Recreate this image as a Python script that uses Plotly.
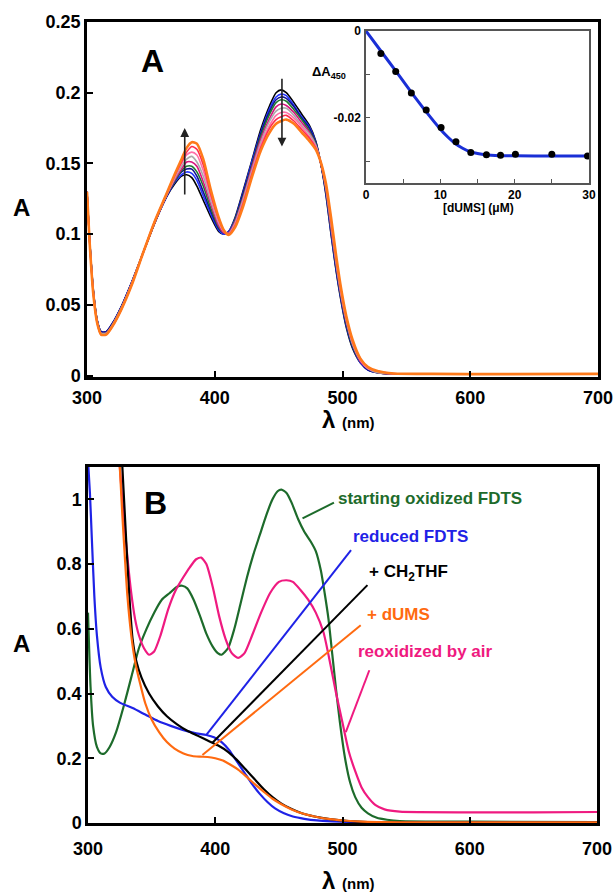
import plotly.graph_objects as go

# ---------------- Panel A: spectra during dUMS titration ----------------
wl_A = [300, 302, 305, 308, 311, 315, 320, 327, 335, 344,
        353, 362, 369, 374, 378, 382, 386, 391, 397, 403,
        407, 411, 416, 422, 429, 436, 443, 448, 452, 456,
        462, 468, 474, 479, 483, 487, 491, 495, 499, 503,
        508, 514, 520, 528, 540, 570, 620, 700]

A_black = [.130, .097, .060, .039, .031, .031, .037, .049, .066, .087,
           .108, .126, .136, .141, .142, .140, .134, .124, .112, .102,
           .100, .102, .112, .130, .152, .174, .191, .200, .202, .200,
           .193, .185, .177, .166, .150, .128, .100, .074, .052, .034,
           .019, .009, .004, .002, .001, .001, .001, .001]
A_blue = [.130, .097, .060, .039, .031, .031, .037, .049, .066, .087,
          .108, .126, .137, .142, .144, .143, .138, .127, .114, .103,
          .100, .102, .111, .129, .151, .172, .189, .197, .199, .198,
          .191, .183, .176, .165, .150, .129, .101, .075, .053, .035,
          .020, .009, .004, .002, .001, .001, .001, .001]
A_navy = [.130, .097, .059, .039, .031, .031, .037, .049, .066, .087,
          .108, .126, .138, .144, .146, .146, .141, .130, .116, .104,
          .101, .101, .110, .128, .149, .171, .187, .195, .197, .196,
          .190, .182, .175, .165, .150, .130, .103, .076, .054, .036,
          .020, .010, .004, .002, .001, .001, .001, .001]
A_green = [.130, .096, .059, .038, .030, .030, .036, .048, .065, .087,
           .108, .127, .138, .145, .148, .148, .144, .134, .118, .105,
           .101, .101, .110, .126, .148, .169, .185, .193, .195, .194,
           .188, .181, .173, .164, .150, .131, .104, .078, .055, .037,
           .021, .010, .005, .002, .001, .001, .001, .001]
A_magenta = [.130, .096, .059, .038, .030, .030, .036, .048, .065, .087,
             .108, .127, .139, .146, .151, .151, .148, .137, .121, .106,
             .101, .101, .109, .125, .147, .167, .182, .190, .192, .191,
             .186, .179, .172, .163, .150, .132, .105, .079, .056, .038,
             .022, .010, .005, .002, .001, .001, .001, .001]
A_gray = [.130, .096, .058, .038, .030, .030, .036, .048, .065, .087,
          .109, .127, .140, .148, .153, .155, .151, .141, .123, .108,
          .102, .1005, .108, .124, .145, .165, .180, .187, .189, .189,
          .184, .177, .171, .163, .151, .133, .107, .080, .057, .039,
          .022, .011, .005, .002, .0012, .001, .001, .001]
A_pink = [.130, .095, .058, .037, .029, .029, .035, .047, .065, .087,
          .109, .127, .141, .150, .156, .158, .156, .145, .126, .109,
          .102, .100, .107, .122, .143, .163, .177, .184, .186, .186,
          .182, .176, .169, .162, .151, .134, .109, .082, .058, .040,
          .023, .011, .005, .003, .0013, .001, .001, .001]
A_red = [.130, .095, .057, .037, .029, .029, .035, .047, .064, .087,
         .109, .128, .142, .151, .158, .162, .160, .149, .128, .111,
         .103, .100, .106, .121, .142, .161, .175, .181, .183, .184,
         .180, .174, .168, .161, .151, .135, .110, .083, .060, .041,
         .024, .012, .006, .003, .0014, .0011, .001, .0012]
A_orange = [.130, .095, .057, .037, .029, .029, .035, .047, .064, .087,
            .109, .128, .143, .153, .161, .165, .164, .153, .131, .112,
            .103, .0995, .105, .119, .140, .159, .172, .178, .180, .181,
            .178, .172, .166, .160, .151, .136, .112, .085, .061, .042,
            .025, .012, .006, .003, .0015, .0012, .001, .0012]

titration_series = [
    (A_black, "#000000", 1.6),
    (A_blue, "#2233ff", 1.6),
    (A_navy, "#101090", 1.6),
    (A_green, "#1e7a2e", 1.6),
    (A_magenta, "#d8147f", 1.6),
    (A_gray, "#aaaaaa", 1.6),
    (A_pink, "#ff6fa8", 1.6),
    (A_red, "#ff2d4d", 1.6),
    (A_orange, "#ff7a1a", 2.6),
]

# ---------------- Inset: Delta A450 vs [dUMS] ----------------
dums_conc = [2.0, 4.0, 6.1, 8.1, 10.1, 12.1, 14.1, 16.2, 18.1, 20.1, 25.0, 29.8]
dA450 = [-0.0052, -0.0093, -0.0143, -0.0182, -0.0222, -0.0255,
         -0.0280, -0.0285, -0.0286, -0.0284, -0.0284, -0.0288]
fit_conc = [0, 2, 4, 6, 8, 10, 11, 12, 13, 14, 15, 16, 18, 20, 25, 30]
fit_dA = [0, -0.0046, -0.0092, -0.0139, -0.0184, -0.0226, -0.0244, -0.0259,
          -0.0270, -0.0278, -0.0282, -0.0285, -0.0287, -0.0287, -0.0288, -0.0288]

# ---------------- Panel B: redox states ----------------
wl_ox = [300, 302, 304, 307, 310, 313, 317, 322, 328, 334, 340, 346, 352, 358,
         364, 370, 374, 378, 383, 388, 393, 398, 402, 405, 410, 415, 420, 425,
         430, 435, 440, 445, 449, 452, 456, 460, 465, 470, 475, 479, 483, 486,
         489, 492, 495, 498, 502, 506, 510, 515, 520, 527, 535, 545, 600, 700]
A_ox = [0.65, 0.42, 0.30, 0.235, 0.215, 0.215, 0.235, 0.28, 0.36, 0.45, 0.54,
        0.60, 0.65, 0.69, 0.71, 0.73, 0.733, 0.725, 0.69, 0.64, 0.585, 0.545,
        0.525, 0.52, 0.54, 0.60, 0.68, 0.76, 0.83, 0.89, 0.95, 1.0, 1.025, 1.03,
        1.02, 0.99, 0.94, 0.90, 0.87, 0.84, 0.78, 0.71, 0.63, 0.52, 0.41, 0.31,
        0.20, 0.125, 0.08, 0.047, 0.03, 0.016, 0.01, 0.006, 0.004, 0.003]

wl_red = [300, 301.5, 303, 305, 307, 310, 314, 319, 325, 335, 345, 355, 365,
          375, 385, 393, 399, 405, 411, 417, 423, 429, 435, 441, 447, 454, 461,
          470, 480, 492, 505, 525, 560, 620, 700]
A_red_B = [1.12, 1.02, 0.88, 0.70, 0.58, 0.48, 0.42, 0.39, 0.372, 0.355, 0.335,
           0.315, 0.30, 0.287, 0.277, 0.272, 0.265, 0.25, 0.225, 0.19, 0.155,
           0.12, 0.09, 0.065, 0.045, 0.03, 0.02, 0.013, 0.008, 0.005, 0.003,
           0.002, 0.001, 0.001, 0.001]

wl_thf = [320, 327, 329, 331, 333, 335, 338, 342, 348, 355, 362, 370, 378, 386,
          394, 402, 410, 417, 424, 431, 438, 445, 452, 460, 468, 478, 490, 505,
          520, 540, 600, 700]
A_thf = [1.7, 1.1, 0.95, 0.80, 0.67, 0.57, 0.50, 0.45, 0.40, 0.36, 0.33, 0.305,
         0.285, 0.27, 0.255, 0.24, 0.22, 0.195, 0.165, 0.135, 0.105, 0.08, 0.06,
         0.043, 0.03, 0.02, 0.012, 0.006, 0.003, 0.002, 0.001, 0.001]

wl_dums = [318, 322, 325, 327, 329, 331, 334, 337, 341, 345, 350, 356, 362, 368,
           375, 382, 388, 394, 400, 406, 412, 418, 424, 431, 438, 445, 452, 460,
           468, 478, 490, 503, 515, 530, 560, 700]
A_dums = [1.7, 1.3, 1.1, 0.95, 0.82, 0.70, 0.58, 0.50, 0.43, 0.37, 0.32, 0.28,
          0.25, 0.23, 0.215, 0.207, 0.205, 0.204, 0.2, 0.193, 0.18, 0.165, 0.145,
          0.12, 0.097, 0.075, 0.058, 0.042, 0.03, 0.02, 0.012, 0.007, 0.004,
          0.003, 0.002, 0.002]

wl_air = [318, 322, 325, 328, 331, 334, 337, 340, 344, 348, 352, 357, 363, 369,
          375, 380, 385, 389, 393, 398, 403, 408, 413, 418, 423, 429, 436, 443,
          450, 456, 461, 467, 473, 479, 485, 490, 495, 500, 505, 510, 515, 520,
          526, 533, 545, 600, 650, 700]
A_air = [1.7, 1.3, 1.1, 0.95, 0.82, 0.71, 0.63, 0.58, 0.54, 0.52, 0.53, 0.58,
         0.66, 0.72, 0.76, 0.79, 0.815, 0.82, 0.80, 0.73, 0.64, 0.57, 0.525, 0.51,
         0.525, 0.58, 0.65, 0.71, 0.745, 0.75, 0.745, 0.72, 0.69, 0.65, 0.59,
         0.50, 0.40, 0.31, 0.22, 0.16, 0.11, 0.08, 0.055, 0.042, 0.035, 0.033,
         0.033, 0.034]

C_OX, C_RED, C_THF, C_DUMS, C_AIR = "#1d6b2b", "#1f22e6", "#000000", "#ff6a10", "#ef1a80"

W, H = 616, 894
FONT = "Liberation Sans, Arial, sans-serif"


def px(x):
    return x / W


def py(y):
    return 1 - y / H


fig = go.Figure()

for vals, col, lw in titration_series:
    fig.add_trace(go.Scatter(x=wl_A, y=vals, mode="lines", xaxis="x", yaxis="y",
                             line=dict(color=col, width=lw, shape="spline", smoothing=0.7),
                             showlegend=False, hoverinfo="skip"))

fig.add_trace(go.Scatter(x=fit_conc, y=fit_dA, mode="lines", xaxis="x2", yaxis="y2",
                         line=dict(color="#1a2fd6", width=3, shape="spline", smoothing=0.8),
                         showlegend=False))
fig.add_trace(go.Scatter(x=dums_conc, y=dA450, mode="markers", xaxis="x2", yaxis="y2",
                         marker=dict(color="black", size=7), showlegend=False))

for xs, ys, col in [(wl_ox, A_ox, C_OX), (wl_air, A_air, C_AIR), (wl_red, A_red_B, C_RED),
                    (wl_thf, A_thf, C_THF), (wl_dums, A_dums, C_DUMS)]:
    fig.add_trace(go.Scatter(x=xs, y=ys, mode="lines", xaxis="x3", yaxis="y3",
                             line=dict(color=col, width=2.2, shape="spline", smoothing=0.6),
                             showlegend=False, hoverinfo="skip"))

main_axis = dict(showline=True, mirror=True, linewidth=2.5, linecolor="black",
                 ticks="inside", ticklen=6, tickwidth=2, tickcolor="black",
                 showgrid=False, zeroline=False, automargin=False,
                 tickfont=dict(family=FONT, size=18, color="black", weight="bold"))
inset_axis = dict(showline=True, mirror=True, linewidth=1.5, linecolor="#555555",
                  ticks="inside", ticklen=4, tickwidth=1.2, tickcolor="#555555",
                  showgrid=False, zeroline=False, automargin=False,
                  tickfont=dict(family=FONT, size=12, color="black", weight="bold"))

fig.update_layout(
    width=W, height=H, margin=dict(l=0, r=0, t=0, b=0, autoexpand=False),
    paper_bgcolor="white", plot_bgcolor="white", showlegend=False,
    xaxis=dict(main_axis, domain=[px(87), px(598)], range=[300, 700], anchor="y",
               tickvals=[300, 400, 500, 600, 700], ticklabelstandoff=3),
    yaxis=dict(main_axis, domain=[py(377), py(22)], range=[-0.001, 0.25], anchor="x",
               tickvals=[0, 0.05, 0.1, 0.15, 0.2, 0.25],
               ticktext=["0", "0.05", "0.1", "0.15", "0.2", "0.25"], ticklabelstandoff=0),
    xaxis2=dict(inset_axis, domain=[px(366), px(589)], range=[0, 30], anchor="y2",
                tickvals=[0, 5, 10, 15, 20, 25, 30],
                ticktext=["0", "", "10", "", "20", "", "30"], ticklabelstandoff=0),
    yaxis2=dict(inset_axis, domain=[py(183), py(31)], range=[-0.035, 0], anchor="x2",
                tickvals=[0, -0.01, -0.02, -0.03], ticktext=["0", "", "-0.02", ""],
                ticklabelstandoff=1),
    xaxis3=dict(main_axis, domain=[px(88), px(597)], range=[300, 700], anchor="y3",
                tickvals=[300, 400, 500, 600, 700], ticklabelstandoff=8),
    yaxis3=dict(main_axis, domain=[py(823), py(467)], range=[0, 1.1], anchor="x3",
                tickvals=[0, 0.2, 0.4, 0.6, 0.8, 1.0],
                ticktext=["0", "0.2", "0.4", "0.6", "0.8", "1"], ticklabelstandoff=0),
)

ann = []


def txt(x, y, text, size, color="black", xanchor="center", bold=True):
    ann.append(dict(x=px(x), y=py(y), xref="paper", yref="paper", text=text,
                    showarrow=False, xanchor=xanchor, yanchor="middle",
                    font=dict(family=FONT, size=size, color=color,
                              weight="bold" if bold else "normal")))


# panel letters and axis titles
txt(152, 61, "A", 32)
txt(155, 503, "B", 32)
txt(21, 208, "A", 24)
txt(21, 643, "A", 24)
txt(348, 419, "λ <span style='font-size:15px'>(nm)</span>", 24)
txt(348, 880, "λ <span style='font-size:15px'>(nm)</span>", 24)
# inset titles
txt(329, 72, "ΔA<sub>450</sub>", 13)
txt(478, 208, "[dUMS] (μM)", 12)
# panel B labels
txt(336, 498, "starting oxidized FDTS", 17, C_OX, "left")
txt(351, 536, "reduced FDTS", 17, C_RED, "left")
txt(367, 573, "+ CH<sub>2</sub>THF", 17, C_THF, "left")
txt(365, 614, "+ dUMS", 17, C_DUMS, "left")
txt(356, 651, "reoxidized by air", 17, C_AIR, "left")

# titration arrows in panel A
for x0, ytail, yhead in [(376.5, 0.127, 0.175), (452.6, 0.211, 0.162)]:
    ann.append(dict(x=x0, y=yhead, ax=x0, ay=ytail, xref="x", yref="y", axref="x", ayref="y",
                    text="", showarrow=True, arrowhead=2, arrowsize=1.1, arrowwidth=1.6,
                    arrowcolor="#222222"))

fig.update_layout(annotations=ann)

# leader lines in panel B
leaders = [
    (468.6, 0.941, 493.3, 0.99, C_OX),
    (393.0, 0.272, 506.7, 0.843, C_RED),
    (397.6, 0.247, 519.6, 0.735, C_THF),
    (389.9, 0.210, 514.3, 0.611, C_DUMS),
    (502.6, 0.281, 521.1, 0.472, C_AIR),
]
for x0, y0, x1, y1, col in leaders:
    fig.add_shape(type="line", xref="x3", yref="y3", x0=x0, y0=y0, x1=x1, y1=y1,
                  line=dict(color=col, width=2))

fig.write_html("out.html", config={"displayModeBar": False},
               post_script="document.body.style.margin='0';")
